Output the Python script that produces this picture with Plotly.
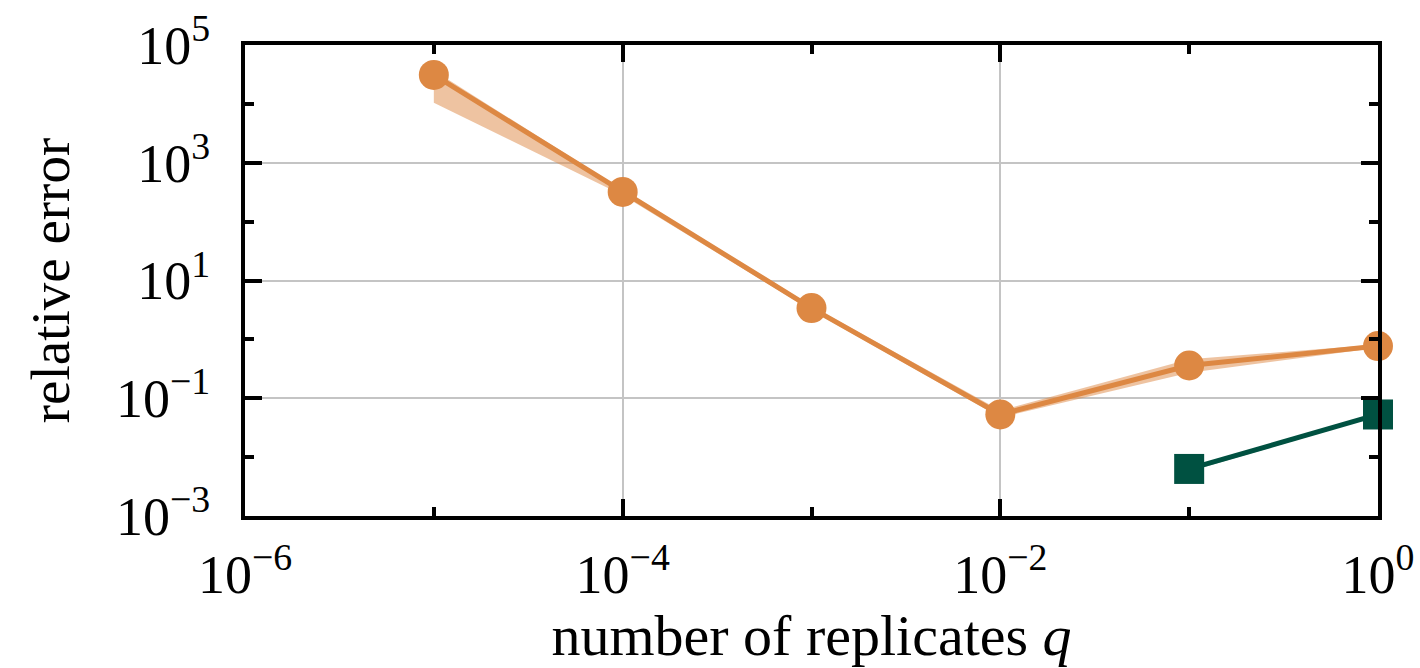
import plotly.graph_objects as go

# ---- data ----
q_vals = [1e-5, 1e-4, 1e-3, 1e-2, 1e-1, 1.0]
orange_err = [3.1e4, 320, 3.4, 0.053, 0.36, 0.77]
orange_lo = [1.05e4, 280, 3.1, 0.047, 0.27, 0.72]
orange_hi = [3.7e4, 345, 3.7, 0.062, 0.46, 0.82]

q_green = [1e-1, 1.0]
green_err = [0.0063, 0.053]
green_lo = [0.0057, 0.050]
green_hi = [0.0066, 0.056]

x_major = [1e-6, 1e-4, 1e-2, 1.0]
x_major_text = ["10<sup>−6</sup>", "10<sup>−4</sup>", "10<sup>−2</sup>", "10<sup>0</sup>"]
x_minor = [1e-5, 1e-3, 1e-1]
y_major = [1e-3, 1e-1, 1e1, 1e3, 1e5]
y_major_text = ["10<sup>−3</sup>", "10<sup>−1</sup>", "10<sup>1</sup>", "10<sup>3</sup>", "10<sup>5</sup>"]
y_minor = [1e-2, 1e0, 1e2, 1e4]

ORANGE = "#dd8843"
ORANGE_BAND = "rgba(221,136,67,0.5)"
GREEN = "#005141"
GREEN_BAND = "rgba(0,81,65,0.45)"
FONT = "Liberation Serif"

fig = go.Figure()

fig.add_trace(go.Scatter(
    x=q_vals + q_vals[::-1], y=orange_hi + orange_lo[::-1],
    fill="toself", fillcolor=ORANGE_BAND, line=dict(width=0),
    mode="lines", hoverinfo="skip", showlegend=False))
fig.add_trace(go.Scatter(
    x=q_green + q_green[::-1], y=green_hi + green_lo[::-1],
    fill="toself", fillcolor=GREEN_BAND, line=dict(width=0),
    mode="lines", hoverinfo="skip", showlegend=False))

fig.add_trace(go.Scatter(
    x=q_vals, y=orange_err, mode="lines+markers",
    line=dict(color=ORANGE, width=5),
    marker=dict(symbol="circle", size=30, color=ORANGE),
    cliponaxis=False, showlegend=False))
fig.add_trace(go.Scatter(
    x=q_green, y=green_err, mode="lines+markers",
    line=dict(color=GREEN, width=5),
    marker=dict(symbol="square", size=30, color=GREEN),
    cliponaxis=False, showlegend=False))

axis_common = dict(
    type="log", automargin=False,
    showline=True, linecolor="black", linewidth=4, mirror="allticks",
    ticks="inside", ticklen=17, tickwidth=4, tickcolor="black",
    showgrid=True, gridcolor="#c4c4c4", gridwidth=2,
    zeroline=False,
    tickfont=dict(family=FONT, size=54, color="black"),
    tickmode="array",
)

fig.update_layout(
    width=1420, height=668,
    margin=dict(l=245, r=42, t=45, b=152),
    paper_bgcolor="white", plot_bgcolor="white",
    font=dict(family=FONT, color="black"),
    xaxis=dict(
        **axis_common,
        range=[-6, 0],
        tickvals=x_major, ticktext=x_major_text,
        ticklabelstandoff=8,
        minor=dict(tickmode="array", tickvals=x_minor, ticks="inside",
                   ticklen=9, tickwidth=4, tickcolor="black", showgrid=False),
        title=dict(text="number of replicates <i>q</i>",
                   font=dict(family=FONT, size=58, color="black"), standoff=8),
    ),
    yaxis=dict(
        **axis_common,
        range=[-3, 5],
        tickvals=y_major, ticktext=y_major_text,
        ticklabelstandoff=20,
        minor=dict(tickmode="array", tickvals=y_minor, ticks="inside",
                   ticklen=9, tickwidth=4, tickcolor="black", showgrid=False),
        title=dict(text="relative error",
                   font=dict(family=FONT, size=55, color="black"), standoff=30),
    ),
)

fig.write_html("out.html")
